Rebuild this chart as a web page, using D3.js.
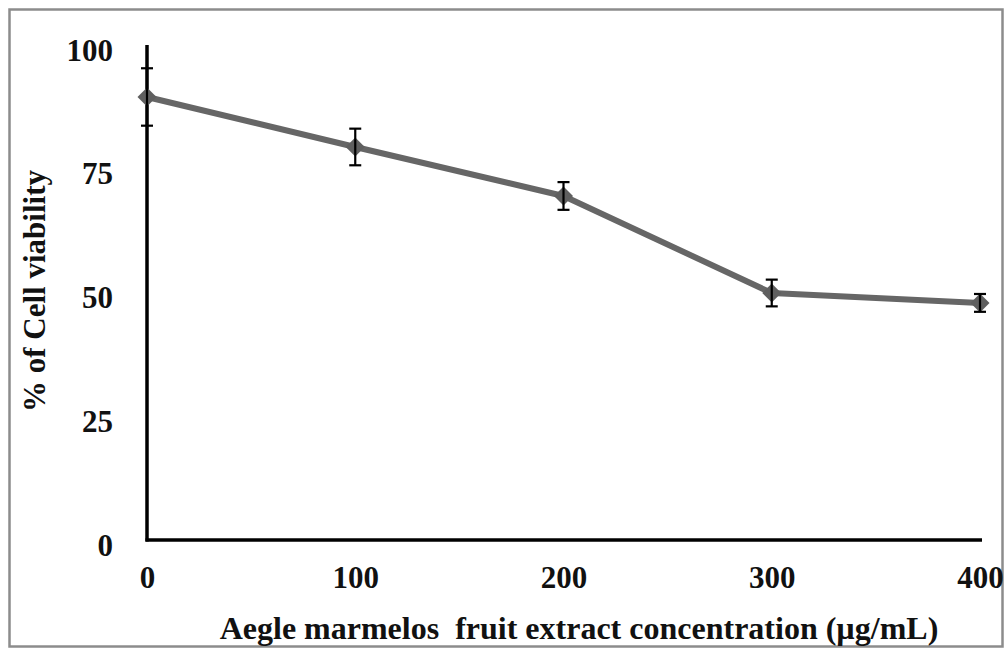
<!DOCTYPE html>
<html>
<head>
<meta charset="utf-8">
<script src="https://cdn.jsdelivr.net/npm/d3@7"></script>
<style>
  body { margin: 0; background: #fff; }
  svg text { font-family: "Liberation Serif", "Times New Roman", serif; font-weight: bold; fill: #111; white-space: pre; }
</style>
</head>
<body>
<svg id="chart" width="1005" height="648"></svg>
<script>
// concentration (µg/mL) and viability (%)
var concentrations = [0, 100, 200, 300, 400];
var viability = [89.5, 79.4, 69.5, 49.9, 47.9];
var errors = [5.8, 3.7, 2.8, 2.7, 1.8];
var yTicks = [0, 25, 50, 75, 100];

var config = {
    plot: { left: 147, right: 980, top: 45, bottom: 540 },
    xLabel: "Aegle marmelos  fruit extract concentration (\u00b5g/mL)",
    yLabel: "% of Cell viability"
};

var svg = d3.select("#chart");

// outer frame
svg.append("rect")
    .attr("x", 9.5).attr("y", 9.5)
    .attr("width", 993).attr("height", 637)
    .attr("fill", "none")
    .attr("stroke", "#8c8c8c")
    .attr("stroke-width", 2.5);

var x = d3.scaleLinear()
    .domain([0, 400])
    .range([config.plot.left, config.plot.right]);

var y = d3.scaleLinear()
    .domain([0, 100])
    .range([config.plot.bottom, config.plot.top]);

var points = concentrations.map((c, i) => ({ x: c, y: viability[i], e: errors[i] }));

// axes
var xAxis = svg.append("g")
    .attr("transform", `translate(0,${config.plot.bottom})`)
    .call(d3.axisBottom(x).tickValues(concentrations).tickSize(0).tickFormat(d3.format("d")));
xAxis.select(".domain").attr("stroke", "#000").attr("stroke-width", 3.5)
    .attr("d", `M${config.plot.left - 1.5},0H${x(400) + 2}`);
xAxis.selectAll("text")
    .attr("font-size", 31)
    .attr("dy", null)
    .attr("y", 48)
    .style("font-family", "Liberation Serif, serif");

var yAxis = svg.append("g")
    .attr("transform", `translate(${config.plot.left},0)`)
    .call(d3.axisLeft(y).tickValues(yTicks).tickSize(0).tickFormat(d3.format("d")));
yAxis.select(".domain").attr("stroke", "#000").attr("stroke-width", 3.5)
    .attr("d", `M0,${y(100)}V${config.plot.bottom + 1.5}`);
yAxis.selectAll("text")
    .attr("font-size", 31)
    .attr("x", -34)
    .attr("dy", "0.36em")
    .attr("transform", "translate(0,4)")
    .style("font-family", "Liberation Serif, serif");

// series line
var line = d3.line()
    .x((d) => x(d.x))
    .y((d) => y(d.y));

svg.append("path")
    .datum(points)
    .attr("d", line)
    .attr("fill", "none")
    .attr("stroke", "#666666")
    .attr("stroke-width", 6)
    .attr("stroke-linejoin", "round");

// diamond markers
var diamond = d3.symbol().type(d3.symbolDiamond2).size(230);
svg.selectAll(".marker")
    .data(points)
    .enter()
    .append("path")
    .attr("class", "marker")
    .attr("d", diamond)
    .attr("transform", (d) => `translate(${x(d.x)},${y(d.y)})`)
    .attr("fill", "#5f5f5f");

// error bars
var errG = svg.append("g").attr("stroke", "#000").attr("stroke-width", 2.2);
points.forEach((d) => {
    var cx = x(d.x);
    errG.append("line")
        .attr("x1", cx).attr("x2", cx)
        .attr("y1", y(d.y + d.e)).attr("y2", y(d.y - d.e));
    [d.y + d.e, d.y - d.e].forEach((v) => {
        errG.append("line")
            .attr("x1", cx - 6).attr("x2", cx + 6)
            .attr("y1", y(v)).attr("y2", y(v));
    });
});

// axis titles
svg.append("text")
    .attr("x", 579)
    .attr("y", 639)
    .attr("text-anchor", "middle")
    .attr("font-size", 32)
    .text(config.xLabel);

svg.append("text")
    .attr("transform", "translate(45,291) rotate(-90)")
    .attr("text-anchor", "middle")
    .attr("font-size", 31)
    .text(config.yLabel);
</script>
</body>
</html>
